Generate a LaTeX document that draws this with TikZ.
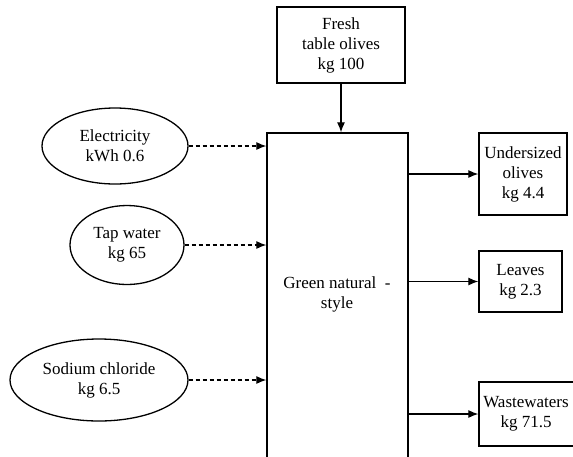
\documentclass[tikz,border=0pt]{standalone}
\usepackage{fontspec}
\setmainfont{Liberation Serif}
\newfontfamily\tnr{Liberation Serif}
\usetikzlibrary{arrows.meta,shapes.geometric}
\begin{document}
\begin{tikzpicture}[x=1pt,y=-1pt,
  lbl/.style={font=\tnr\fontsize{17}{20}\selectfont, align=center, inner sep=0pt},
  boxnode/.style={draw, line width=1.3pt, inner sep=0pt, lbl},
  ell/.style={draw, ellipse, line width=1.3pt, inner sep=0pt, lbl},
  arr/.style={line width=1.2pt, -{Latex[length=10pt,width=8pt]}},
  darr/.style={arr, dash pattern=on 4pt off 3pt}
]
\useasboundingbox (0,0) rectangle (573,456);
\clip (0,0) rectangle (573,456);
% top input
\node[boxnode, minimum width=128pt, minimum height=76pt] (fresh) at (341,45) {Fresh\\table olives\\kg 100};
% main process
\node[draw, line width=1.3pt, minimum width=141pt, minimum height=337pt, inner sep=0pt] (main) at (337.5,301.5) {};
\node[lbl] (mainlbl) at (337,294) {Green natural\ \ -\\style};
% inputs
\node[ell, minimum width=146pt, minimum height=76pt] (elec) at (115,146) {Electricity\\kWh 0.6};
\node[ell, minimum width=114pt, minimum height=79pt] (tap) at (127,245) {Tap water\\kg 65};
\node[ell, minimum width=178pt, minimum height=82pt] (salt) at (99,380) {Sodium chloride\\kg 6.5};
% outputs
\node[boxnode, minimum width=88pt, minimum height=82pt] (under) at (523,174) {Undersized\\olives\\kg 4.4};
\node[boxnode, minimum width=83pt, minimum height=61pt] (leaves) at (520.5,281.5) {Leaves\\kg 2.3};
\node[draw, line width=1.3pt, minimum width=100pt, minimum height=64pt, inner sep=0pt] (waste) at (529,414) {};
\node[lbl] (wastelbl) at (526,414) {Wastewaters\\kg 71.5};
% connectors
\draw[arr] (fresh.south) -- (fresh.south |- main.north);
\draw[darr] (elec.east) -- (elec.east -| main.west);
\draw[darr] (tap.east) -- (tap.east -| main.west);
\draw[darr] (salt.east) -- (salt.east -| main.west);
\draw[arr] (under.west -| main.east) -- (under.west);
\draw[arr] (leaves.west -| main.east) -- (leaves.west);
\draw[arr] (waste.west -| main.east) -- (waste.west);
\end{tikzpicture}
\end{document}
